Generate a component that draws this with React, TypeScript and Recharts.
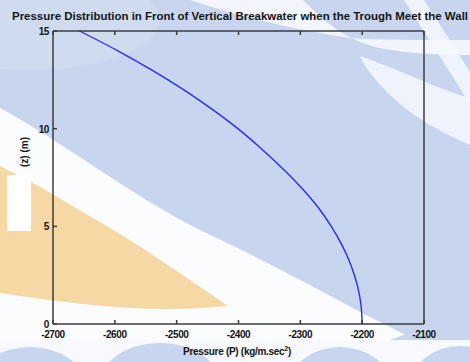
import { type FC } from 'react';
import { ComposedChart, Line, XAxis, YAxis } from 'recharts';

// depth below surface (m) and pressure
const depthZ = [0, 1, 2, 3, 4, 5, 6, 7, 8, 9, 10, 11, 12, 13, 14, 15];
const pressureP = [
  -2200, -2202, -2208, -2218, -2232, -2250, -2272, -2299, -2330, -2364, -2401, -2443, -2489, -2540, -2596,
  -2657,
];
const xTicks = [-2700, -2600, -2500, -2400, -2300, -2200, -2100];
const yTicks = [0, 5, 10, 15];

const chartData = depthZ.map((z, i) => ({ z, p: pressureP[i] }));

const AXIS = '#3c3c3c';
const INK = '#141414';
const FONT = '"Liberation Sans", Arial, sans-serif';
const TICK_LEN = 4;

const BottomTick: FC<any> = ({ x, y, payload }) => (
  <g>
    <line x1={x} x2={x} y1={y} y2={y - TICK_LEN} stroke={AXIS} strokeWidth={1.5} />
    <text x={x} y={y + 14} textAnchor="middle" fontSize={10} fontWeight="bold" fill={INK} fontFamily={FONT} letterSpacing={-0.4}>
      {payload.value}
    </text>
  </g>
);

const TopTick: FC<any> = ({ x, y }) => (
  <line x1={x} x2={x} y1={y} y2={y + TICK_LEN} stroke={AXIS} strokeWidth={1.5} />
);

const LeftTick: FC<any> = ({ x, y, payload }) => (
  <g>
    <line x1={x} x2={x + TICK_LEN} y1={y} y2={y} stroke={AXIS} strokeWidth={1.5} />
    <text x={x - 4} y={y + 4} textAnchor="end" fontSize={10} fontWeight="bold" fill={INK} fontFamily={FONT} letterSpacing={-0.4}>
      {payload.value}
    </text>
  </g>
);

const RightTick: FC<any> = ({ x, y }) => (
  <line x1={x} x2={x - TICK_LEN} y1={y} y2={y} stroke={AXIS} strokeWidth={1.5} />
);

const WHITE = '#f6f8fd';

const Backdrop: FC = () => (
  <svg width={470} height={362} style={{ position: 'absolute', left: 0, top: 0 }}>
    <rect x={0} y={0} width={470} height={362} fill="#c7d6ee" />
    <ellipse cx={30} cy={20} rx={130} ry={50} fill="#d3def1" opacity={0.7} />
    {/* upper right swooshes */}
    <path d="M 190 0 L 303 0 C 325 22 345 40 380 48 C 410 54 440 55 470 55 L 470 40 C 420 40 380 40 350 38 C 300 30 250 20 190 0 Z" fill={WHITE} opacity={0.9} />
    <path d="M 360 56 C 400 70 440 90 470 98 L 470 145 C 440 132 410 115 390 95 C 375 80 365 68 360 56 Z" fill={WHITE} opacity={0.85} />
    <path d="M 404 0 L 424 0 L 470 72 L 470 104 Z" fill={WHITE} opacity={0.85} />
    {/* left white band */}
    <path d="M 0 108 C 60 140 130 195 200 230 C 260 258 310 285 360 312 C 380 322 400 332 420 342 L 0 342 Z" fill="#fbfcfe" />
    {/* orange wedge */}
    <path d="M 0 166 C 40 185 70 205 100 222 C 140 245 190 280 228 306 C 150 314 80 305 0 293 Z" fill="#f6d8a4" />
    {/* bottom band */}
    <rect x={0} y={340} width={470} height={22} fill="#f7f9fd" />
    <path d="M 390 340 L 470 340 L 470 320 C 440 325 415 330 390 340 Z" fill="#c7d6ee" />
    <ellipse cx={30} cy={385} rx={55} ry={38} fill="#c7d6ee" />
    <ellipse cx={160} cy={384} rx={60} ry={41} fill="#c7d6ee" />
    <ellipse cx={340} cy={385} rx={50} ry={38} fill="#c7d6ee" />
    <ellipse cx={460} cy={384} rx={48} ry={38} fill="#c7d6ee" />
    {/* white box near the y label */}
    <rect x={7} y={175} width={24} height={56} fill="#ffffff" />
  </svg>
);

export default function App() {
  return (
    <div style={{ position: 'absolute', left: 0, top: 0, width: 470, height: 362, overflow: 'hidden' }}>
      <Backdrop />
      <div style={{ position: 'absolute', left: 0, top: 0 }}>
        <ComposedChart width={470} height={362} data={chartData} margin={{ top: 30, right: 45, bottom: 37, left: 52 }}>
          <XAxis
            xAxisId="bottom"
            dataKey="p"
            type="number"
            domain={[-2700, -2100]}
            ticks={xTicks}
            interval={0}
            height={1}
            tickSize={0}
            tickMargin={0}
            tick={<BottomTick />}
            tickLine={false}
            axisLine={{ stroke: AXIS, strokeWidth: 1.5 }}
          />
          <XAxis
            xAxisId="top"
            orientation="top"
            dataKey="p"
            type="number"
            domain={[-2700, -2100]}
            ticks={xTicks}
            interval={0}
            height={1}
            tickSize={0}
            tickMargin={0}
            tick={<TopTick />}
            tickLine={false}
            axisLine={{ stroke: AXIS, strokeWidth: 1.5 }}
          />
          <YAxis
            yAxisId="left"
            type="number"
            domain={[0, 15]}
            ticks={yTicks}
            interval={0}
            width={1}
            tickSize={0}
            tickMargin={0}
            tick={<LeftTick />}
            tickLine={false}
            axisLine={{ stroke: AXIS, strokeWidth: 1.5 }}
          />
          <YAxis
            yAxisId="right"
            orientation="right"
            type="number"
            domain={[0, 15]}
            ticks={yTicks}
            interval={0}
            width={1}
            tickSize={0}
            tickMargin={0}
            tick={<RightTick />}
            tickLine={false}
            axisLine={{ stroke: AXIS, strokeWidth: 1.5 }}
          />
          <Line
            xAxisId="bottom"
            yAxisId="left"
            dataKey="z"
            type="monotoneY"
            stroke="#2a2aff"
            strokeWidth={1.4}
            dot={false}
            isAnimationActive={false}
          />
        </ComposedChart>
      </div>
      <svg width={470} height={362} style={{ position: 'absolute', left: 0, top: 0, pointerEvents: 'none' }}>
        <text x={240} y={20} textAnchor="middle" fontSize={10.5} fontWeight="bold" fill={INK} fontFamily={FONT} textLength={456} lengthAdjust="spacingAndGlyphs">
          Pressure Distribution in Front of Vertical Breakwater when the Trough Meet the Wall
        </text>
        <text x={237} y={355} textAnchor="middle" fontSize={10} fontWeight="bold" fill={INK} fontFamily={FONT} letterSpacing={-0.3}>
          Pressure (P) (kg/m.sec
          <tspan dy={-4} fontSize={7}>2</tspan>
          <tspan dy={4}>)</tspan>
        </text>
        <text x={0} y={0} transform="translate(28 152) rotate(-90)" textAnchor="middle" fontSize={10} fontWeight="bold" fill={INK} fontFamily={FONT}>
          (z) (m)
        </text>
      </svg>
    </div>
  );
}
